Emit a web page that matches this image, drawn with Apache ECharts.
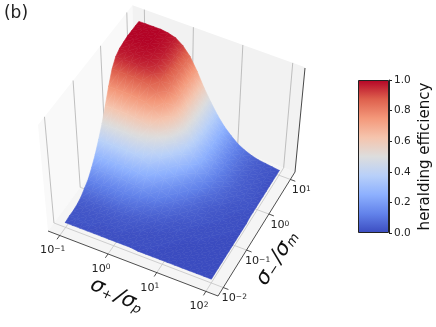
<!DOCTYPE html>
<html>
<head>
<meta charset="utf-8">
<style>
    html, body { margin: 0; padding: 0; background: #fff; }
    #chart { width: 436px; height: 327px; }
</style>
<script src="https://cdn.jsdelivr.net/npm/echarts@6/dist/echarts.min.js"></script>
</head>
<body>
<div id="chart"></div>
<script>
// heralding efficiency, rows go from sigma- low to high, columns from sigma+ low to high
const efficiency = [
    [.01,.01,.01,.01,.01,.01,.01,.01,.01,.01,0,0,0,0,0,0,0,0,0,0,0],
    [.02,.02,.02,.02,.01,.01,.01,.01,.01,.01,.01,.01,0,0,0,0,0,0,0,0,0],
    [.02,.02,.02,.02,.02,.02,.02,.02,.01,.01,.01,.01,.01,0,0,0,0,0,0,0,0],
    [.03,.03,.03,.03,.03,.03,.03,.03,.02,.02,.01,.01,.01,.01,0,0,0,0,0,0,0],
    [.05,.05,.05,.05,.05,.05,.05,.04,.04,.03,.02,.02,.01,.01,.01,0,0,0,0,0,0],
    [.09,.09,.09,.09,.09,.09,.08,.08,.06,.05,.04,.03,.02,.02,.01,.01,.01,0,0,0,0],
    [.13,.13,.13,.13,.13,.13,.12,.11,.09,.08,.06,.05,.03,.02,.02,.01,.01,.01,0,0,0],
    [.20,.20,.20,.20,.20,.19,.18,.17,.14,.12,.09,.07,.05,.04,.03,.02,.01,.01,.01,0,0],
    [.28,.28,.28,.28,.28,.27,.26,.24,.20,.16,.13,.10,.07,.05,.04,.03,.02,.01,.01,.01,0],
    [.38,.38,.38,.38,.38,.37,.35,.32,.27,.22,.17,.13,.10,.07,.05,.03,.02,.02,.01,.01,0],
    [.49,.49,.49,.49,.49,.48,.45,.41,.35,.28,.23,.17,.13,.09,.06,.04,.03,.02,.01,.01,0],
    [.62,.62,.62,.62,.61,.60,.57,.52,.45,.36,.29,.22,.16,.12,.08,.06,.04,.02,.02,.01,.01],
    [.76,.76,.76,.76,.75,.74,.70,.64,.55,.44,.35,.27,.20,.14,.10,.07,.05,.03,.02,.02,.01],
    [.88,.88,.88,.88,.87,.85,.81,.74,.63,.51,.40,.31,.23,.17,.11,.08,.05,.04,.03,.02,.01],
    [.95,.95,.95,.95,.94,.92,.87,.80,.68,.55,.44,.33,.25,.18,.12,.09,.06,.04,.03,.02,.01],
    [.98,.98,.98,.98,.97,.95,.90,.82,.71,.57,.45,.34,.25,.19,.13,.09,.06,.04,.03,.02,.01],
    [.99,.99,.99,.99,.98,.96,.91,.83,.71,.57,.46,.35,.26,.19,.13,.09,.06,.04,.03,.02,.01],
    [1,1,1,1,.99,.97,.92,.84,.72,.58,.46,.35,.26,.19,.13,.09,.06,.04,.03,.02,.01],
    [1,1,1,1,.99,.97,.92,.84,.72,.58,.46,.35,.26,.19,.13,.09,.06,.04,.03,.02,.01],
    [1,1,1,1,.99,.97,.92,.84,.72,.58,.46,.35,.26,.19,.13,.09,.06,.04,.03,.02,.01],
    [1,1,1,1,.99,.97,.92,.84,.72,.58,.46,.35,.26,.19,.13,.09,.06,.04,.03,.02,.01]
];
const plusTicks = ['10{e|−1}', '10{e|0}', '10{e|1}', '10{e|2}'];
const minusTicks = ['10{e|−2}', '10{e|−1}', '10{e|0}', '10{e|1}'];
const coolwarm = ['#3b4cc0', '#6282ea', '#8db0fe', '#b8d0f9', '#dddddd', '#f5c4ad', '#f4987a', '#de604d', '#b40426'];

// box corners on screen: floor left, front, right, back and the wall tops
const L = [48, 231], F = [218, 296], R = [295, 172], B = [135, 113], TL = [38, 125], TR = [305, 68];

// floor homography from the four corners, then the height term
const dx1 = F[0] - R[0], dx2 = B[0] - R[0], sx = L[0] - F[0] + R[0] - B[0];
const dy1 = F[1] - R[1], dy2 = B[1] - R[1], sy = L[1] - F[1] + R[1] - B[1];
const den = dx1 * dy2 - dx2 * dy1;
const g = (sx * dy2 - dx2 * sy) / den, h = (dx1 * sy - sx * dy1) / den;
const a = F[0] - L[0] + g * F[0], b = B[0] - L[0] + h * B[0];
const d = F[1] - L[1] + g * F[1], e = B[1] - L[1] + h * B[1];
const m = (TR[0] * (g + h + 1) - (a + b + L[0]) - TL[0] + L[0]) / (TL[0] - TR[0]);
const kx = TL[0] * (1 + m) - L[0], ky = TL[1] * (1 + m) - L[1];

function project(p, q, r) {
    const w = g * p + h * q + m * r + 1;
    return [(a * p + b * q + L[0] + kx * r) / w, (d * p + e * q + L[1] + ky * r) / w];
}

// where the data range sits inside the box
const plusPos = t => 0.07 + 0.86 * t;
const minusPos = t => 0.064 + 0.872 * t;
const heightPos = z => 0.04 + 0.92 * z;

const n = efficiency.length - 1;
const cells = [];
for (let j = n - 1; j >= 0; j--) {
    for (let i = 0; i < n; i++) {
        cells.push([i, j]);
    }
}

// fill for one triangle: a linear gradient along the slope of the value plane
function triangleFill(P, Z) {
    const zmin = Math.min(...Z), zmax = Math.max(...Z);
    if (zmax - zmin < 1e-6) return echarts.color.lerp(zmin, coolwarm);
    const ax = P[1][0] - P[0][0], ay = P[1][1] - P[0][1], bx = P[2][0] - P[0][0], by = P[2][1] - P[0][1];
    const az = Z[1] - Z[0], bz = Z[2] - Z[0];
    const det = ax * by - bx * ay;
    if (Math.abs(det) < 1e-6) return echarts.color.lerp((zmin + zmax) / 2, coolwarm);
    const gx = (az * by - bz * ay) / det, gy = (ax * bz - bx * az) / det;
    const start = P[Z.indexOf(zmin)];
    const t = (zmax - zmin) / (gx * gx + gy * gy);
    const colorStops = [0, 0.25, 0.5, 0.75, 1].map(s => ({
        offset: s, color: echarts.color.lerp(zmin + (zmax - zmin) * s, coolwarm)
    }));
    return { type: 'linear', global: true, x: start[0], y: start[1], x2: start[0] + gx * t, y2: start[1] + gy * t, colorStops: colorStops };
}

function renderCell(params, api) {
    const i = api.value(0), j = api.value(1);
    const corner = (ci, cj) => project(plusPos(ci / n), minusPos(cj / n), heightPos(efficiency[cj][ci]));
    const p00 = corner(i, j), p10 = corner(i + 1, j), p11 = corner(i + 1, j + 1), p01 = corner(i, j + 1);
    const z00 = efficiency[j][i], z10 = efficiency[j][i + 1], z11 = efficiency[j + 1][i + 1], z01 = efficiency[j + 1][i];
    const fill1 = triangleFill([p01, p11, p00], [z01, z11, z00]);
    const fill2 = triangleFill([p00, p11, p10], [z00, z11, z10]);
    return {
        type: 'group',
        children: [
            { type: 'polygon', shape: { points: [p01, p11, p00] }, style: { fill: fill1, stroke: fill1, lineWidth: 0.6 } },
            { type: 'polygon', shape: { points: [p00, p11, p10] }, style: { fill: fill2, stroke: fill2, lineWidth: 0.6 } }
        ]
    };
}

function pane(points, fill) {
    return { type: 'polygon', shape: { points: points }, style: { fill: fill } };
}
function line(p1, p2, stroke, width) {
    return { type: 'line', shape: { x1: p1[0], y1: p1[1], x2: p2[0], y2: p2[1] }, style: { stroke: stroke, lineWidth: width } };
}
function label(text, x, y, size) {
    return {
        type: 'text', x: x, y: y,
        style: {
            text: text, fontFamily: 'DejaVu Sans', fontSize: size, fill: '#222', align: 'center', verticalAlign: 'middle',
            rich: { e: { fontSize: 7.5, fontFamily: 'DejaVu Sans', fill: '#222', verticalAlign: 'top' } }
        }
    };
}
function axisName(text, x, y, rotation) {
    return {
        type: 'text', x: x, y: y, rotation: rotation,
        style: {
            text: text, align: 'center', verticalAlign: 'middle', fill: '#111', fontFamily: 'DejaVu Sans',
            rich: {
                i: { fontSize: 21, fontStyle: 'italic', fontFamily: 'DejaVu Sans', fill: '#111' },
                s: { fontSize: 13, fontStyle: 'italic', fontFamily: 'DejaVu Sans', fill: '#111', padding: [8, 3, 0, 0] }
            }
        }
    };
}

const graphics = [
    pane([project(0, 0, 0), project(0, 1, 0), project(0, 1, 1), project(0, 0, 1)], '#f9f9f9'),
    pane([project(0, 1, 0), project(1, 1, 0), project(1, 1, 1), project(0, 1, 1)], '#f2f2f2'),
    pane([project(0, 0, 0), project(1, 0, 0), project(1, 1, 0), project(0, 1, 0)], '#f5f5f5')
];
plusTicks.forEach((t, k) => {
    const p = plusPos(k / 3);
    graphics.push(line(project(p, 0, 0), project(p, 1, 0), '#c4c4c4', 0.8));
    graphics.push(line(project(p, 1, 0), project(p, 1, 1), '#b0b0b0', 0.8));
    graphics.push(line(project(p, 0, 0), project(p, -0.03, 0), '#222', 0.8));
    const at = project(p, 0, 0);
    graphics.push(label(t, at[0] - 7, at[1] + 15, 11.2));
});
minusTicks.forEach((t, k) => {
    const q = minusPos(k / 3);
    graphics.push(line(project(0, q, 0), project(1, q, 0), '#c4c4c4', 0.8));
    graphics.push(line(project(0, q, 0), project(0, q, 1), '#b0b0b0', 0.8));
    graphics.push(line(project(1, q, 0), project(1.03, q, 0), '#222', 0.8));
    const at = project(1, q, 0);
    graphics.push(label(t, at[0] + 11, at[1] + 11, 11.2));
});
graphics.push(line(L, F, '#222', 0.8), line(F, R, '#222', 0.8), line(R, TR, '#333', 0.9));
graphics.push(label('(b)', 16, 14, 17));
graphics.push(axisName('{i|σ}{s|+}{i|/σ}{s|p}', 118, 296, -0.44));
graphics.push(axisName('{i|σ}{s|−}{i|/σ}{s|m}', 278, 257, 1.0));

const chart = echarts.init(document.getElementById('chart'));
const stops = coolwarm.map((c, k) => ({ offset: k / (coolwarm.length - 1), color: c }));
chart.setOption({
    animation: false,
    graphic: { elements: graphics },
    grid: { left: 358, top: 80, width: 31, height: 153 },
    xAxis: { type: 'category', data: ['bar'], show: false },
    yAxis: {
        type: 'value', min: 0, max: 1, interval: 0.2, position: 'right',
        axisLine: { show: true, lineStyle: { color: '#222' } },
        axisTick: { show: true, length: 3, lineStyle: { color: '#222' } },
        splitLine: { show: false },
        axisLabel: { color: '#222', fontFamily: 'DejaVu Sans', fontSize: 10.5, margin: 5, formatter: v => v.toFixed(1) },
        name: 'heralding efficiency', nameLocation: 'middle', nameRotate: 90, nameGap: 29,
        nameTextStyle: { color: '#111', fontFamily: 'DejaVu Sans', fontSize: 15 }
    },
    series: [
        {
            type: 'bar', data: [1], barWidth: '100%', silent: true,
            itemStyle: {
                color: new echarts.graphic.LinearGradient(0, 1, 0, 0, stops),
                borderColor: '#222', borderWidth: 1
            }
        },
        {
            type: 'custom', coordinateSystem: 'none', data: cells, renderItem: renderCell, silent: true
        }
    ]
});
</script>
</body>
</html>
